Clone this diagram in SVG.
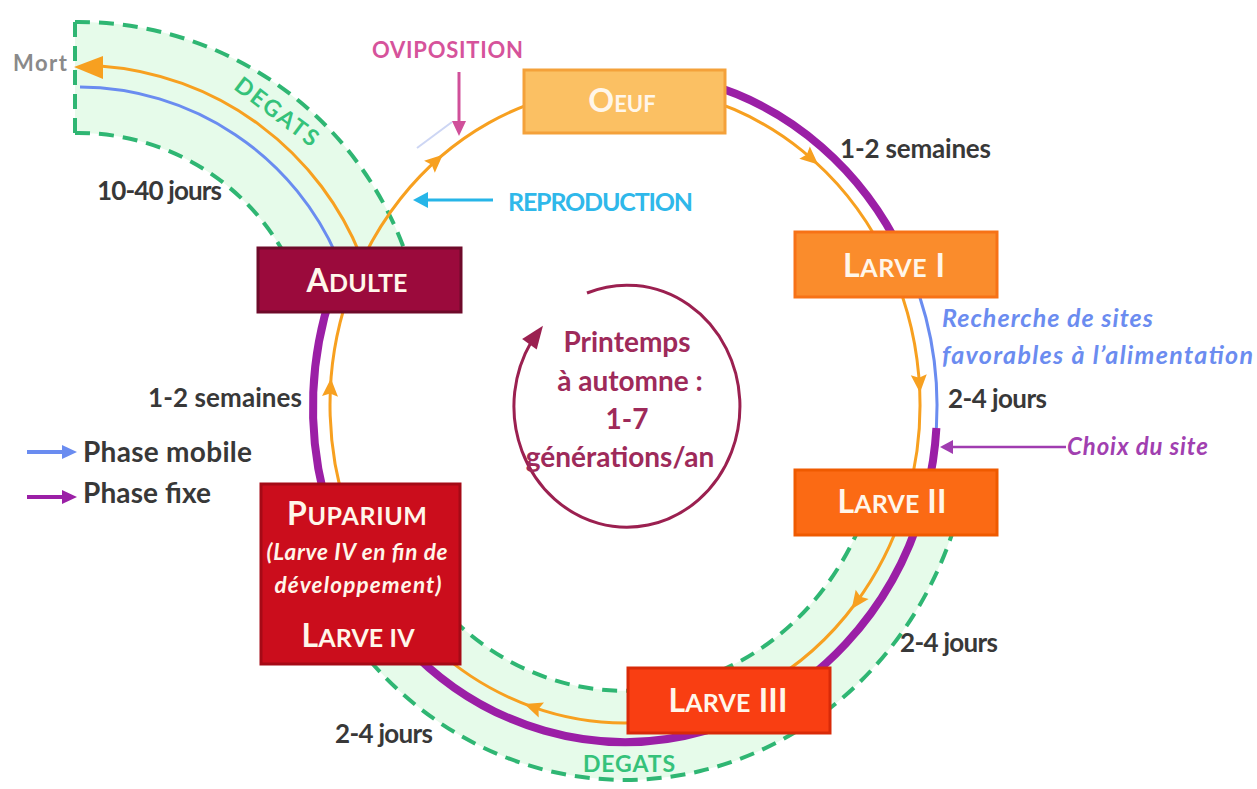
<svg xmlns="http://www.w3.org/2000/svg" width="1257" height="789" viewBox="0 0 1257 789">
<style>
text{font-family:"Lato","Liberation Sans",sans-serif;font-weight:bold}
.box{stroke-width:3}
.bt{fill:#fff6ea;text-anchor:middle;font-size:32px}
.it{fill:#fff6ea;text-anchor:middle;font-size:22.5px;font-style:italic}
.sm{font-size:25px}
.lbl{fill:#383838;font-size:26px}
.leg{fill:#383838;font-size:28px}
.band{fill:#e6fbea;stroke:none}
.dash{fill:none;stroke:#2fb673;stroke-width:4;stroke-dasharray:15 9}
.org{fill:none;stroke:#f7a020;stroke-width:3}
.pur{fill:none;stroke:#9b1fa6;stroke-width:8}
.blu{fill:none;stroke:#6a8cf0;stroke-width:3}
.oh{fill:#f7a020}
.deg{fill:#35c27a;font-size:23px}
.ctr{fill:#9e2a5a;font-size:28px;text-anchor:middle}
</style>
<rect width="1257" height="789" fill="#ffffff"/>

<g id="bands">
<path class="band" d="M75,22 A347,347 0 0 1 408,260 L287.8,260 A236,236 0 0 0 75,133 Z"/>
<path class="dash" d="M75,22 A347,347 0 0 1 408,260"/>
<path class="dash" d="M75,133 A236,236 0 0 1 287.8,260"/>
<path class="dash" d="M75,22 L75,133"/>
<path class="band" d="M961,503.5 A348,373 0 0 1 358.4,646.8 L426.6,589.6 A259,284 0 0 0 875,480.5 Z"/>
<path class="dash" d="M961,503.5 A348,373 0 0 1 358.4,646.8"/>
<path class="dash" d="M875,480.5 A259,284 0 0 1 426.6,589.6"/>
</g>

<g id="connectors">
<path class="org" d="M701.4,97.8 A295,318 0 1 1 347.8,296.2"/>
<path class="org" stroke-width="2" d="M347.8,296.2 A295,318 0 0 1 701.4,97.8"/>
<path d="M417,148 L452,122" stroke="#cdd6f4" stroke-width="2" fill="none"/>
<path class="pur" d="M705.7,83.4 A312,335 0 0 1 903,255"/>
<path class="blu" d="M903,255 A312,335 0 0 1 936.4,428"/>
<path class="pur" d="M936.4,428 A312,335 0 0 1 926.4,493.7"/>
<path class="pur" d="M926.4,493.7 A312,335 0 0 1 404.4,643.9"/>
<path class="pur" d="M323.6,493.7 A312,335 0 0 1 331.8,292.4"/>
<path class="blu" d="M338.5,260 A282,282 0 0 0 80,87"/>
<path class="org" stroke-width="5" d="M362.3,260 A304,304 0 0 0 100,66"/>
<polygon class="oh" points="74,67 103,56 103,79"/>
<g class="oh">
<polygon points="10,0 -8,-8 -5,0 -8,8" transform="translate(810.6,157.9) rotate(41.1)"/>
<polygon points="10,0 -8,-8 -5,0 -8,8" transform="translate(919.3,382.8) rotate(86.3)"/>
<polygon points="10,0 -8,-8 -5,0 -8,8" transform="translate(857.5,600.8) rotate(125.9)"/>
<polygon points="10,0 -8,-8 -5,0 -8,8" transform="translate(533.8,707.4) rotate(199.3)"/>
<polygon points="10,0 -8,-8 -5,0 -8,8" transform="translate(330.4,388.4) rotate(-87.2)"/>
<polygon points="10,0 -8,-8 -5,0 -8,8" transform="translate(435.4,161.4) rotate(-42.1)"/>
</g>
<path d="M459,72 L459,124" stroke="#d0509a" stroke-width="3"/>
<polygon points="459,136 452,121 466,121" fill="#d0509a"/>
<path d="M493,200 L426,200" stroke="#26b5e8" stroke-width="3"/>
<polygon points="413,200 428,192 428,208" fill="#26b5e8"/>
<path d="M1066,447 L950,447" stroke="#a03cb0" stroke-width="2.5"/>
<polygon points="940,447 953,440 953,454" fill="#a03cb0"/>
<path d="M27,452 L63,452" stroke="#6a8cf0" stroke-width="4"/>
<polygon points="77,452 62,445 62,459" fill="#6a8cf0"/>
<path d="M27,497 L63,497" stroke="#9b1fa6" stroke-width="4"/>
<polygon points="77,497 62,490 62,504" fill="#9b1fa6"/>
<path d="M587,293 A113,121 0 1 1 531.2,341.9" fill="none" stroke="#9b2050" stroke-width="3"/>
<polygon points="20,0 -3,-9 -3,9" transform="translate(531.2,341.9) rotate(-54)" fill="#9b2050"/>
</g>

<g id="oeuf">
<rect class="box" x="524" y="70" width="201" height="63" fill="#fbc063" stroke="#f4a13a"/>
<text class="bt" x="622" y="112"><tspan>O</tspan><tspan style="font-size:22px">EUF</tspan></text>
</g>
<g id="larve1">
<rect class="box" x="795" y="232" width="202" height="65" fill="#fa8c2c" stroke="#f77216"/>
<text class="bt" x="894" y="277" textLength="102">L<tspan class="sm">ARVE</tspan> I</text>
</g>
<g id="larve2">
<rect class="box" x="795" y="470" width="202" height="65" fill="#fb6a14" stroke="#ef5a00"/>
<text class="bt" x="892" y="513" textLength="109">L<tspan class="sm">ARVE</tspan> II</text>
</g>
<g id="larve3">
<rect class="box" x="628" y="668" width="202" height="65" fill="#f93e12" stroke="#d92a08"/>
<text class="bt" x="728" y="712" textLength="119">L<tspan class="sm">ARVE</tspan> III</text>
</g>
<g id="puparium">
<rect class="box" x="261" y="484" width="199" height="180" fill="#cb0d1c" stroke="#a50a16"/>
<text class="bt" x="357" y="525" textLength="140">P<tspan class="sm">UPARIUM</tspan></text>
<text class="it" x="357" y="560" textLength="181">(Larve IV en fin de</text>
<text class="it" x="358" y="593" textLength="167">développement)</text>
<text class="bt" x="358" y="647" textLength="113">L<tspan class="sm">ARVE IV</tspan></text>
</g>
<g id="adulte">
<rect class="box" x="258" y="248" width="203" height="64" fill="#9b0a3c" stroke="#6e0a2a"/>
<text class="bt" x="357" y="292" textLength="101">A<tspan class="sm">DULTE</tspan></text>
</g>

<g id="labels">
<text x="13" y="71" fill="#8a8a8a" style="font-size:22px" textLength="54">Mort</text>
<text x="372" y="58" fill="#d6539b" style="font-size:22px" textLength="151">OVIPOSITION</text>
<text x="508" y="211" fill="#2fb8ea" style="font-size:25px" textLength="185">REPRODUCTION</text>
<text class="lbl" x="840" y="158" textLength="151">1-2 semaines</text>
<text class="lbl" x="97" y="200" textLength="125">10-40 jours</text>
<text class="lbl" x="148" y="407" textLength="154">1-2 semaines</text>
<text class="leg" x="83" y="462" textLength="169">Phase mobile</text>
<text class="leg" x="83" y="503" textLength="128">Phase fixe</text>
<text x="942" y="327" fill="#6b8cf0" style="font-size:25px;font-style:italic" textLength="211">Recherche de sites</text>
<text x="942" y="364" fill="#6b8cf0" style="font-size:25px;font-style:italic" textLength="311">favorables à l’alimentation</text>
<text class="lbl" x="948" y="408" textLength="99">2-4 jours</text>
<text x="1067" y="455" fill="#a13fb0" style="font-size:24px;font-style:italic" textLength="141">Choix du site</text>
<text class="lbl" x="900" y="652" textLength="98">2-4 jours</text>
<text class="lbl" x="335" y="743" textLength="98">2-4 jours</text>
<text class="deg" x="583" y="772" textLength="92">DEGATS</text>
<text class="deg" x="0" y="0" text-anchor="middle" textLength="98" transform="translate(272,118) rotate(37)">DEGATS</text>
<text class="ctr" x="627" y="352">Printemps</text>
<text class="ctr" x="630" y="391">à automne :</text>
<text class="ctr" x="627" y="429">1-7</text>
<text class="ctr" x="620" y="467">générations/an</text>
</g>
</svg>
